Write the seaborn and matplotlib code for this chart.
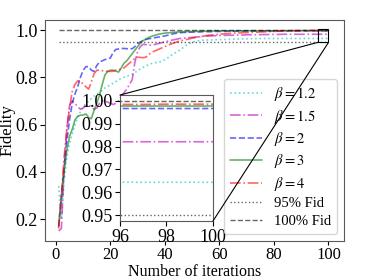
import numpy as np
import matplotlib
matplotlib.use('Agg')
import matplotlib.pyplot as plt
import seaborn as sns
from matplotlib.patches import Rectangle, ConnectionPatch
from matplotlib.ticker import FormatStrFormatter

iters = np.arange(1, 101)

beta_12 = [0.34, 0.20, 0.36, 0.46, 0.52, 0.56, 0.60, 0.63, 0.655, 0.675,
           0.69, 0.70, 0.71, 0.72, 0.73, 0.735, 0.745, 0.755, 0.762, 0.768,
           0.775, 0.782, 0.79, 0.795, 0.80, 0.805, 0.808, 0.812, 0.82, 0.828,
           0.835, 0.842, 0.848, 0.853, 0.858, 0.861, 0.863, 0.865, 0.868, 0.875,
           0.882, 0.89, 0.898, 0.905, 0.912, 0.92, 0.928, 0.936, 0.943, 0.948,
           0.951, 0.954, 0.956, 0.957, 0.958, 0.958, 0.958, 0.959, 0.959, 0.959,
           0.96, 0.96, 0.96, 0.961, 0.961, 0.962, 0.962, 0.963, 0.963, 0.963,
           0.9635, 0.9635, 0.964, 0.964, 0.964, 0.964, 0.9642, 0.9642, 0.9643, 0.9643,
           0.9643, 0.9643, 0.9643, 0.9643, 0.9643, 0.9643, 0.9643, 0.9643, 0.9643, 0.9643,
           0.9644, 0.9644, 0.9644, 0.9644, 0.9644, 0.9644, 0.9644, 0.9644, 0.9644, 0.9644]

beta_15 = [0.15, 0.16, 0.40, 0.58, 0.68, 0.70, 0.69, 0.675, 0.665, 0.67,
           0.68, 0.685, 0.675, 0.665, 0.67, 0.69, 0.70, 0.70, 0.695, 0.69,
           0.685, 0.69, 0.70, 0.72, 0.735, 0.75, 0.77, 0.79, 0.865, 0.91,
           0.93, 0.94, 0.938, 0.936, 0.936, 0.938, 0.941, 0.944, 0.947, 0.95,
           0.953, 0.956, 0.958, 0.961, 0.963, 0.965, 0.966, 0.967, 0.968, 0.969,
           0.970, 0.971, 0.972, 0.973, 0.974, 0.975, 0.975, 0.976, 0.976, 0.977,
           0.977, 0.977, 0.978, 0.978, 0.978, 0.979, 0.979, 0.979, 0.979, 0.98,
           0.98, 0.98, 0.98, 0.9805, 0.9805, 0.981, 0.981, 0.981, 0.9815, 0.9815,
           0.9815, 0.9815, 0.982, 0.982, 0.982, 0.982, 0.982, 0.982, 0.982, 0.982,
           0.9821, 0.9821, 0.9821, 0.9821, 0.9821, 0.9821, 0.9821, 0.9821, 0.9821, 0.9821]

beta_2 = [0.17, 0.30, 0.42, 0.53, 0.62, 0.69, 0.73, 0.76, 0.80, 0.83,
          0.845, 0.845, 0.83, 0.825, 0.85, 0.865, 0.87, 0.875, 0.878, 0.882,
          0.905, 0.918, 0.92, 0.922, 0.922, 0.921, 0.92, 0.921, 0.93, 0.942,
          0.95, 0.955, 0.96, 0.963, 0.965, 0.967, 0.969, 0.971, 0.973, 0.975,
          0.978, 0.981, 0.984, 0.986, 0.988, 0.989, 0.99, 0.99, 0.991, 0.991,
          0.992, 0.992, 0.992, 0.993, 0.993, 0.993, 0.993, 0.994, 0.994, 0.994,
          0.994, 0.994, 0.995, 0.995, 0.995, 0.995, 0.995, 0.995, 0.9955, 0.9955,
          0.9955, 0.9955, 0.9955, 0.996, 0.996, 0.996, 0.996, 0.996, 0.996, 0.996,
          0.996, 0.996, 0.9963, 0.9963, 0.9963, 0.9963, 0.9963, 0.9963, 0.9965, 0.9965,
          0.9965, 0.9965, 0.9966, 0.9966, 0.9966, 0.9966, 0.9966, 0.9966, 0.9966, 0.9966]

beta_3 = [0.17, 0.28, 0.40, 0.49, 0.55, 0.58, 0.62, 0.635, 0.64, 0.64,
          0.645, 0.63, 0.625, 0.66, 0.69, 0.725, 0.77, 0.81, 0.825, 0.83,
          0.83, 0.826, 0.822, 0.84, 0.86, 0.87, 0.885, 0.90, 0.915, 0.93,
          0.945, 0.955, 0.962, 0.968, 0.973, 0.977, 0.98, 0.983, 0.985, 0.987,
          0.988, 0.989, 0.99, 0.991, 0.992, 0.992, 0.993, 0.993, 0.994, 0.994,
          0.994, 0.995, 0.995, 0.995, 0.995, 0.996, 0.996, 0.996, 0.996, 0.996,
          0.9965, 0.9965, 0.9965, 0.9965, 0.9965, 0.9965, 0.9965, 0.9965, 0.9965, 0.9965,
          0.997, 0.997, 0.997, 0.997, 0.997, 0.997, 0.997, 0.997, 0.997, 0.997,
          0.9972, 0.9972, 0.9972, 0.9972, 0.9972, 0.9975, 0.9975, 0.9975, 0.9975, 0.9975,
          0.9977, 0.9977, 0.9977, 0.9977, 0.9977, 0.9977, 0.9977, 0.9977, 0.9977, 0.9977]

beta_4 = [0.16, 0.30, 0.46, 0.58, 0.67, 0.74, 0.77, 0.785, 0.785, 0.77,
          0.76, 0.75, 0.78, 0.815, 0.83, 0.83, 0.828, 0.826, 0.825, 0.825,
          0.826, 0.83, 0.832, 0.835, 0.84, 0.85, 0.86, 0.87, 0.88, 0.885,
          0.884, 0.883, 0.885, 0.895, 0.905, 0.91, 0.915, 0.92, 0.925, 0.93,
          0.935, 0.94, 0.944, 0.948, 0.952, 0.955, 0.958, 0.96, 0.963, 0.966,
          0.968, 0.97, 0.972, 0.974, 0.976, 0.978, 0.979, 0.98, 0.981, 0.982,
          0.983, 0.984, 0.985, 0.986, 0.987, 0.987, 0.988, 0.988, 0.989, 0.989,
          0.99, 0.99, 0.991, 0.991, 0.992, 0.992, 0.993, 0.993, 0.994, 0.994,
          0.995, 0.995, 0.996, 0.996, 0.9965, 0.9965, 0.997, 0.997, 0.9975, 0.9975,
          0.998, 0.998, 0.998, 0.9982, 0.9982, 0.9984, 0.9984, 0.9985, 0.9985, 0.9985]

labels = [r'$\beta = 1.2$', r'$\beta = 1.5$', r'$\beta = 2$', r'$\beta = 3$', r'$\beta = 4$']
fid_levels = [0.95, 1.0]
fid_labels = ['95% Fid', '100% Fid']

curves = [beta_12, beta_15, beta_2, beta_3, beta_4]
colors = ['c', 'm', 'b', 'g', 'r']
styles = [':', '-.', '--', '-', '-.']
fid_styles = [':', '--']

sns.set_style('ticks')
plt.rcParams['font.family'] = ['Liberation Serif', 'DejaVu Serif']
plt.rcParams['mathtext.fontset'] = 'stix'
plt.rcParams['font.size'] = 12
plt.rcParams['text.color'] = 'black'
plt.rcParams['axes.labelcolor'] = 'black'
plt.rcParams['xtick.color'] = 'black'
plt.rcParams['ytick.color'] = 'black'
plt.rcParams['xtick.labelsize'] = 12
plt.rcParams['ytick.labelsize'] = 13
plt.rcParams['axes.edgecolor'] = '0.35'

fig = plt.figure(figsize=(3.74, 2.80), dpi=100)
# main axes: 45..344 px wide, 20..241 px tall
ax = fig.add_axes([0.1203, 0.1393, 0.7995, 0.7893])
axins = ax.inset_axes([0.2508, 0.0905, 0.311, 0.570])

def draw(a, with_label):
    for vals, lab, c, ls in zip(curves, labels, colors, styles):
        sns.lineplot(x=iters, y=vals, ax=a, color=c, linestyle=ls, alpha=0.6,
                     lw=1.2, label=lab if with_label else None, legend=False)
    for lvl, lab, ls in zip(fid_levels, fid_labels, fid_styles):
        sns.lineplot(x=[iters[0], iters[-1]], y=[lvl, lvl], ax=a, color='k',
                     linestyle=ls, alpha=0.6, lw=1.0,
                     label=lab if with_label else None, legend=False)

draw(ax, True)
draw(axins, False)

ax.set_xlim(-4, 105.7)
ax.set_ylim(0.1075, 1.0425)
ax.set_xticks([0, 20, 40, 60, 80, 100])
ax.set_yticks([0.2, 0.4, 0.6, 0.8, 1.0])
ax.tick_params(axis='y', pad=2)
ax.tick_params(axis='x', pad=1.5, length=3)
ax.set_xlabel('Number of iterations', fontsize=11.5)
ax.set_ylabel('Fidelity', fontsize=12)
ax.xaxis.set_label_coords(0.5, -0.104)
ax.yaxis.set_label_coords(-0.098, 0.5)

axins.set_xlim(96, 100)
axins.set_ylim(0.9475, 1.0025)
axins.set_xticks([96, 98, 100])
axins.set_yticks([0.95, 0.96, 0.97, 0.98, 0.99, 1.00])
axins.yaxis.set_major_formatter(FormatStrFormatter('%.2f'))
axins.tick_params(axis='y', pad=2)
axins.tick_params(axis='x', pad=2)
axins.tick_params(labelsize=13)
axins.set_xlabel('')
axins.set_ylabel('')

ax.add_patch(Rectangle((96, 0.9475), 4, 0.055, fill=False, ec='k', lw=0.8, zorder=4))
for ptA, ptB in [((0, 1), (96, 0.9475)), ((1, 0), (100, 0.9475))]:
    con = ConnectionPatch(xyA=ptA, coordsA=axins.transAxes, xyB=ptB,
                          coordsB=ax.transData, color='k', lw=0.8)
    fig.add_artist(con)

ax.legend(loc='lower right', fontsize=10.5, handlelength=2.2, labelspacing=0.3)

fig.savefig('out.png', dpi=100)
